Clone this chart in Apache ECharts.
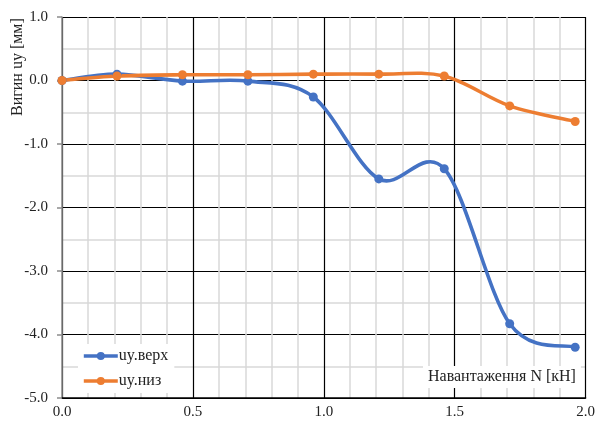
<!DOCTYPE html>
<html>
<head>
<meta charset="utf-8">
<script src="https://cdn.jsdelivr.net/npm/echarts@6/dist/echarts.min.js"></script>
<style>
  html, body { margin: 0; padding: 0; background: #fff; }
  #chart { width: 598px; height: 423px; }
</style>
</head>
<body>
<div id="chart"></div>
<script>
// Load N [kN] at each measurement step
const loads = [0, 0.21, 0.46, 0.71, 0.96, 1.21, 1.46, 1.71, 1.96];
// Deflection uy [mm], top and bottom gauges
const uyTop = [0, 0.10, -0.01, -0.01, -0.26, -1.55, -1.39, -3.83, -4.20];
const uyBottom = [0, 0.07, 0.09, 0.09, 0.10, 0.10, 0.07, -0.40, -0.645];

const seriesNames = ['uy.верх', 'uy.низ'];
const seriesColors = ['#4472C4', '#ED7D31'];
const xTitle = 'Навантаження N [кН]';
const yTitle = 'Вигин uy [мм]';

const FONT = '"Liberation Serif", "Times New Roman", serif';
const pair = (xs, ys) => xs.map((x, i) => [x, ys[i]]);

const chart = echarts.init(document.getElementById('chart'), null, { renderer: 'canvas' });

// Smooth curve through the points: cubic Bezier segments whose control
// points follow the Catmull-Rom rule (neighbour difference / 6).
const curveSeries = (name, color, values) => ({
  name: name + ' (curve)',
  type: 'custom',
  data: pair(loads, values),
  encode: { x: 0, y: 1 },
  silent: true,
  z: 2,
  renderItem: (params, api) => {
    const i = params.dataIndexInside;
    const n = params.dataInsideLength;
    if (i >= n - 1) return null;
    const pt = k => {
      const j = Math.max(0, Math.min(n - 1, k));
      return api.coord([api.value(0, j), api.value(1, j)]);
    };
    const p0 = pt(i - 1), p1 = pt(i), p2 = pt(i + 1), p3 = pt(i + 2);
    return {
      type: 'bezierCurve',
      shape: {
        x1: p1[0], y1: p1[1],
        cpx1: p1[0] + (p2[0] - p0[0]) / 6, cpy1: p1[1] + (p2[1] - p0[1]) / 6,
        cpx2: p2[0] - (p3[0] - p1[0]) / 6, cpy2: p2[1] - (p3[1] - p1[1]) / 6,
        x2: p2[0], y2: p2[1]
      },
      style: { stroke: color, lineWidth: 3.6, fill: null, lineCap: 'round' }
    };
  }
});

// Markers at the measured points (the curve itself comes from the custom series)
const markerSeries = (name, color, values) => ({
  name: name,
  type: 'line',
  data: pair(loads, values),
  symbol: 'circle',
  symbolSize: 9,
  lineStyle: { color: color, width: 3, opacity: 0 },
  itemStyle: { color: color },
  z: 3
});

chart.setOption({
  animation: false,
  grid: { left: 62, right: 10, top: 17, bottom: 25, containLabel: false },
  xAxis: {
    type: 'value',
    min: 0, max: 2, interval: 0.5,
    axisLine: { show: true, onZero: false, lineStyle: { color: '#000', width: 1.5 } },
    axisTick: { show: false },
    axisLabel: {
      margin: 7, fontFamily: FONT, fontSize: 15, color: '#222',
      formatter: v => v.toFixed(1)
    },
    splitLine: { show: true, lineStyle: { color: '#000', width: 1.2 } },
    minorTick: { show: false, splitNumber: 5 },
    minorSplitLine: { show: true, lineStyle: { color: '#d9d9d9', width: 1.5 } }
  },
  yAxis: {
    type: 'value',
    min: -5, max: 1, interval: 1,
    axisLine: { show: true, lineStyle: { color: '#8c8c8c', width: 1.5 } },
    axisTick: { show: true, inside: false, length: 5, lineStyle: { color: '#8c8c8c', width: 1.5 } },
    axisLabel: {
      margin: 14, fontFamily: FONT, fontSize: 15, color: '#222',
      formatter: v => v.toFixed(1)
    },
    splitLine: { show: true, lineStyle: { color: '#000', width: 1.2 } },
    minorTick: { show: false, splitNumber: 2 },
    minorSplitLine: { show: true, lineStyle: { color: '#d9d9d9', width: 1.5 } }
  },
  legend: {
    orient: 'vertical',
    left: 78, top: 344,
    padding: [4, 6, 4, 4],
    itemGap: 9,
    itemWidth: 34, itemHeight: 10,
    backgroundColor: '#fff',
    textStyle: { fontFamily: FONT, fontSize: 16, color: '#222', padding: [0, 0, 0, -4] },
    data: seriesNames.map((name, k) => ({
      name: name,
      lineStyle: { color: seriesColors[k], width: 3.6, opacity: 1 }
    })),
    z: 4
  },
  graphic: [
    {
      type: 'text',
      left: 423, top: 366,
      z: 5,
      style: {
        text: xTitle,
        font: '16px ' + FONT,
        fill: '#222',
        backgroundColor: '#fff',
        padding: [3, 5, 3, 5]
      }
    },
    {
      type: 'text',
      x: 10, y: 116,
      rotation: Math.PI / 2,
      z: 5,
      style: {
        text: yTitle,
        font: '16px ' + FONT,
        fill: '#222',
        verticalAlign: 'top'
      }
    }
  ],
  series: [
    curveSeries(seriesNames[0], seriesColors[0], uyTop),
    curveSeries(seriesNames[1], seriesColors[1], uyBottom),
    markerSeries(seriesNames[0], seriesColors[0], uyTop),
    markerSeries(seriesNames[1], seriesColors[1], uyBottom)
  ]
});
</script>
</body>
</html>
